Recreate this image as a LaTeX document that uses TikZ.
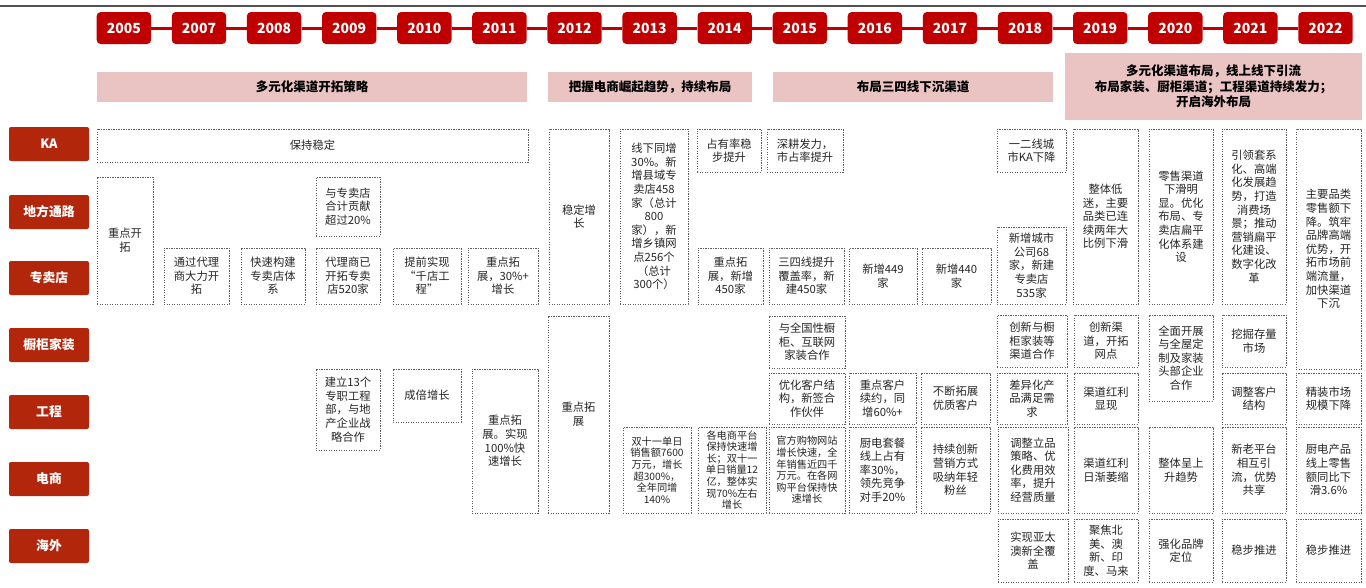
\documentclass[tikz,border=0pt]{standalone}
\usepackage{fontspec}
\setmainfont{Noto Sans CJK SC}
\definecolor{yr}{RGB}{192,0,0}
\definecolor{rl}{RGB}{178,38,12}
\definecolor{pk}{RGB}{234,195,195}
\definecolor{tx}{RGB}{38,38,38}
\definecolor{bd}{RGB}{95,95,95}
\tikzset{
 yearbox/.style={fill=yr, rounded corners=4pt, minimum width=54.4pt, minimum height=32pt, inner sep=0pt, text=white, font=\fontsize{14}{16}\selectfont\bfseries},
 rowlab/.style={fill=rl, rounded corners=2pt, minimum width=80pt, minimum height=34pt, inner sep=0pt, text=white, font=\fontsize{12.8}{15}\selectfont\bfseries},
 band/.style={fill=pk, inner sep=0pt, align=center, text=black, font=\fontsize{12.5}{15.5}\selectfont\bfseries},
 dbox/.style={draw=bd, dash pattern=on 1.2pt off 1.3pt, line width=1pt, inner sep=0pt, align=center, text=tx, font=\fontsize{11.3}{13.6}\selectfont},
 smalltxt/.style={font=\fontsize{10.2}{11.6}\selectfont},
 tl/.style={draw=yr, line width=3pt},
}
\newcommand\dbx[7][]{%
 \pgfmathsetmacro\mybw{#5-#3}\pgfmathsetmacro\mybh{#6-#4}%
 \pgfmathsetmacro\mycx{(#3+#5)/2}\pgfmathsetmacro\mycy{(#4+#6)/2}%
 \node[dbox,minimum width=\mybw pt,minimum height=\mybh pt,#1] (#2) at (\mycx,\mycy) {#7};}
\begin{document}
\begin{tikzpicture}[x=1pt,y=-1pt]
\fill[white] (0,0) rectangle (1366,587);
\useasboundingbox (0,0) rectangle (1366,587);
% top rule
\draw[line width=2.5pt, black!68] (0,6) -- (1366,6);
% years
\foreach \yr [count=\i from 0] in {2005,2007,2008,2009,2010,2011,2012,2013,2014,2015,2016,2017,2018,2019,2020,2021,2022}
  \node[yearbox] (y\yr) at ({123.9+75.1*\i},28) {\yr};
\foreach \a/\b in {2005/2007,2007/2008,2008/2009,2009/2010,2010/2011,2011/2012,2012/2013,2013/2014,2014/2015,2015/2016,2016/2017,2017/2018,2018/2019,2019/2020,2020/2021,2021/2022}
  \draw[tl] (y\a) -- (y\b);
% bands
\node[band, minimum width=430pt, minimum height=30pt] (b1) at (312,87) {多元化渠道开拓策略};
\node[band, minimum width=204pt, minimum height=30pt] (b2) at (650,87) {把握电商崛起趋势，持续布局};
\node[band, minimum width=280pt, minimum height=30pt] (b3) at (913,87) {布局三四线下沉渠道};
\node[band, minimum width=297pt, minimum height=67pt] (b4) at (1213.5,86.5) {多元化渠道布局，线上线下引流\\布局家装、厨柜渠道；工程渠道持续发力；\\开启海外布局};
% row labels
\node[rowlab] (rKA) at (49,144) {KA};
\node[rowlab] (rDF) at (49,212) {地方通路};
\node[rowlab] (rZM) at (49,278) {专卖店};
\node[rowlab] (rCG) at (49,345) {橱柜家装};
\node[rowlab] (rGC) at (49,412) {工程};
\node[rowlab] (rDS) at (49,479) {电商};
\node[rowlab] (rHW) at (49,546) {海外};
% boxes
\dbx{k1}{97}{129}{528}{162}{保持稳定}
\dbx{d1}{97}{177}{153}{304}{重点开\\拓}
\dbx{s1}{164}{248}{229}{304}{通过代理\\商大力开\\拓}
\dbx{s2}{241}{248}{305}{304}{快速构建\\专卖店体\\系}
\dbx{d2}{316}{177}{380}{236}{与专卖店\\合计贡献\\超过20\%}
\dbx{s3}{316}{248}{380}{304}{代理商已\\开拓专卖\\店520家}
\dbx{s4}{393}{248}{461}{304}{提前实现\\“千店工\\程”}
\dbx{s5}{468}{248}{538}{304}{重点拓\\展，30\%+\\增长}
\dbx{g1}{316}{369}{380}{450}{建立13个\\专职工程\\部，与地\\产企业战\\略合作}
\dbx{g2}{393}{369}{461}{422}{成倍增长}
\dbx{g3}{472}{369}{538}{513}{重点拓\\展。实现\\100\%快\\速增长}
\dbx{s6}{549}{129}{609}{304}{稳定增\\长}
\dbx{s7}{620}{129}{688}{304}{线下同增\\30\%。新\\增县域专\\卖店458\\家（总计\\800\\家），新\\增乡镇网\\点256个\\（总计\\300个）}
\dbx{k2}{697}{129}{761}{172}{占有率稳\\步提升}
\dbx{k3}{767}{129}{843}{172}{深耕发力，\\市占率提升}
\dbx{s8}{698}{248}{763}{304}{重点拓\\展，新增\\450家}
\dbx{s9}{769}{248}{844}{304}{三四线提升\\覆盖率，新\\建450家}
\dbx{s10}{849}{248}{917}{304}{新增449\\家}
\dbx{s11}{922}{248}{991}{304}{新增440\\家}
\dbx{k4}{997}{129}{1066}{172}{一二线城\\市KA下降}
\dbx{s12}{997}{227}{1066}{304}{新增城市\\公司68\\家，新建\\专卖店\\535家}
\dbx{s13}{1073}{129}{1138}{304}{整体低\\迷，主要\\品类已连\\续两年大\\比例下滑}
\dbx{s14}{1149}{129}{1213}{304}{零售渠道\\下滑明\\显。优化\\布局、专\\卖店扁平\\化体系建\\设}
\dbx{s15}{1222}{129}{1286}{304}{引领套系\\化、高端\\化发展趋\\势，打造\\消费场\\景；推动\\营销扁平\\化建设、\\数字化改\\革}
\dbx{s16}{1296}{129}{1361}{369}{主要品类\\零售额下\\降。筑牢\\品牌高端\\优势，开\\拓市场前\\端流量，\\加快渠道\\下沉}
\dbx{e1}{548}{316}{609}{513}{重点拓\\展}
\dbx[smalltxt]{e2}{623}{427}{691}{513}{双十一单日\\销售额7600\\万元，增长\\超300\%，\\全年同增\\140\%}
\dbx[smalltxt]{e3}{698}{427}{766}{513}{各电商平台\\保持快速增\\长；双十一\\单日销量12\\亿，整体实\\现70\%左右\\增长}
\dbx{c1}{769}{316}{845}{368}{与全国性橱\\柜、互联网\\家装合作}
\dbx{g4}{769}{373}{845}{424}{优化客户结\\构，新签合\\作伙伴}
\dbx[smalltxt]{e4}{769}{427}{845}{513}{官方购物网站\\增长快速，全\\年销售近四千\\万元。在各网\\购平台保持快\\速增长}
\dbx{g5}{849}{373}{916}{424}{重点客户\\续约，同\\增60\%+}
\dbx{e5}{849}{427}{916}{513}{厨电套餐\\线上占有\\率30\%，\\领先竞争\\对手20\%}
\dbx{g6}{921}{373}{990}{424}{不断拓展\\优质客户}
\dbx{e6}{921}{427}{990}{513}{持续创新\\营销方式\\吸纳年轻\\粉丝}
\dbx{c2}{997}{315}{1067}{367}{创新与橱\\柜家装等\\渠道合作}
\dbx{c3}{1074}{315}{1138}{367}{创新渠\\道，开拓\\网点}
\dbx{c4}{1149}{315}{1213}{401}{全面开展\\与全屋定\\制及家装\\头部企业\\合作}
\dbx{c5}{1222}{315}{1286}{367}{挖掘存量\\市场}
\dbx{g7}{997}{373}{1067}{424}{差异化产\\品满足需\\求}
\dbx{g8}{1074}{373}{1138}{424}{渠道红利\\显现}
\dbx{g9}{1222}{373}{1286}{424}{调整客户\\结构}
\dbx{g10}{1296}{373}{1361}{424}{精装市场\\规模下降}
\dbx{e7}{998}{427}{1068}{513}{调整立品\\策略、优\\化费用效\\率，提升\\经营质量}
\dbx{e8}{1074}{427}{1138}{513}{渠道红利\\日渐萎缩}
\dbx{e9}{1149}{427}{1213}{513}{整体呈上\\升趋势}
\dbx{e10}{1222}{427}{1286}{513}{新老平台\\相互引\\流，优势\\共享}
\dbx{e11}{1296}{427}{1361}{513}{厨电产品\\线上零售\\额同比下\\滑3.6\%}
\dbx{o1}{998}{519}{1068}{582}{实现亚太\\澳新全覆\\盖}
\dbx{o2}{1074}{519}{1138}{582}{聚焦北\\美、澳\\新、印\\度、马来}
\dbx{o3}{1149}{519}{1213}{582}{强化品牌\\定位}
\dbx{o4}{1222}{519}{1286}{582}{稳步推进}
\dbx{o5}{1296}{519}{1361}{582}{稳步推进}
\end{tikzpicture}
\end{document}
